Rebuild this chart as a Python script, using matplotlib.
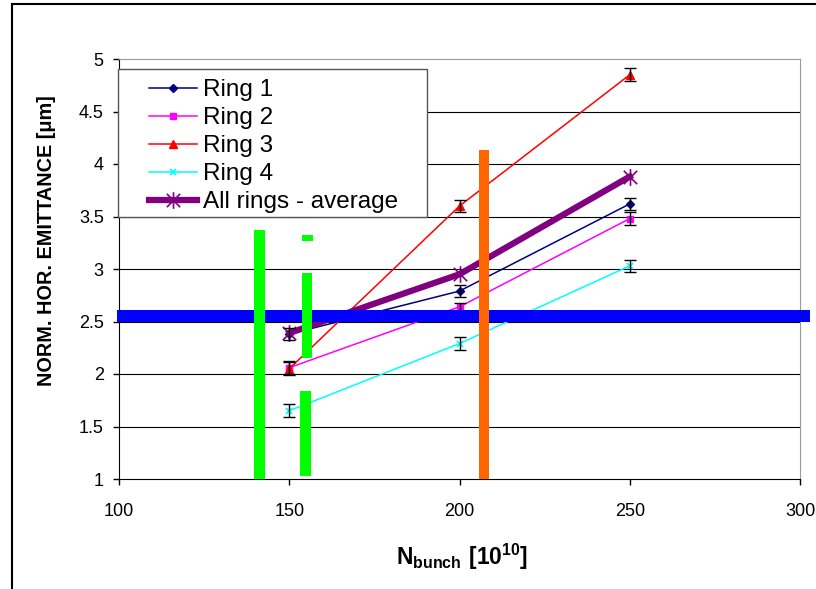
import numpy as np
import matplotlib
matplotlib.use('Agg')
import matplotlib.pyplot as plt
from matplotlib.patches import Rectangle
from matplotlib.lines import Line2D
from matplotlib.path import Path

plt.rcParams['font.family'] = ['Liberation Sans', 'DejaVu Sans']
plt.rcParams['mathtext.fontset'] = 'custom'
plt.rcParams['mathtext.rm'] = 'Liberation Sans'
plt.rcParams['mathtext.bf'] = 'Liberation Sans:bold'

# data
n_bunch = [150, 200, 250]
ring1 = [2.38, 2.79, 3.62]
ring2 = [2.06, 2.64, 3.48]
ring3 = [2.05, 3.60, 4.85]
ring4 = [1.65, 2.29, 3.03]
average = [2.39, 2.95, 3.88]
err1 = [0.06, 0.06, 0.06]
err2 = [0.06, 0.04, 0.06]
err3 = [0.06, 0.06, 0.06]
err4 = [0.06, 0.065, 0.06]

# coloured overlay bars (x0, x1, y0, y1) in data units
blue_bar = (99.4, 302.9, 2.50, 2.61)
green_bars = [(139.7, 142.9, 1.0, 3.37),
              (153.8, 156.9, 3.27, 3.32),
              (153.6, 156.7, 2.155, 2.965),
              (153.1, 156.3, 1.03, 1.84)]
orange_bar = (205.7, 208.8, 1.0, 4.13)

W, H = 816, 589
fig = plt.figure(figsize=(W / 100, H / 100), dpi=100)
ax = fig.add_axes([119 / W, 1 - 479 / H, (800 - 119) / W, (479 - 59) / H])

# outer frame of the pasted chart
fig.add_artist(Line2D([12 / W, 12 / W], [0, 1 - 4 / H], color='black', lw=1.5, transform=fig.transFigure))
fig.add_artist(Line2D([12 / W, 1], [1 - 4 / H, 1 - 4 / H], color='black', lw=1.5, transform=fig.transFigure))

# asterisk marker like excel
star = Path([(0, -1), (0, 1), (-0.8, -0.8), (0.8, 0.8), (-0.8, 0.8), (0.8, -0.8)],
            [Path.MOVETO, Path.LINETO, Path.MOVETO, Path.LINETO, Path.MOVETO, Path.LINETO])

for y in np.arange(1.5, 5, 0.5):
    ax.axhline(y, color='black', lw=0.8, zorder=1)

ax.plot(n_bunch, ring1, color='#000080', lw=1.1, marker='D', ms=4.5, label='Ring 1', zorder=3)
ax.plot(n_bunch, ring2, color='#FF00FF', lw=1.1, marker='s', ms=4.5, label='Ring 2', zorder=3)
ax.plot(n_bunch, ring3, color='#FF0000', lw=1.1, marker='^', ms=5.5, label='Ring 3', zorder=3)
ax.plot(n_bunch, ring4, color='#00FFFF', lw=1.1, marker='x', ms=5, mew=1.3, label='Ring 4', zorder=3)
ax.plot(n_bunch, average, color='#800080', lw=4.5, marker=star, ms=12, mew=1.2,
        label='All rings - average', zorder=3)

for vals, errs in [(ring1, err1), (ring2, err2), (ring3, err3), (ring4, err4)]:
    ax.errorbar(n_bunch, vals, yerr=errs, fmt='none', ecolor='black', elinewidth=1,
                capsize=4.5, capthick=1, zorder=4)

x0, x1, y0, y1 = blue_bar
ax.add_patch(Rectangle((x0, y0), x1 - x0, y1 - y0, color='#0000FF', lw=0, zorder=5, clip_on=False))
for x0, x1, y0, y1 in green_bars:
    ax.add_patch(Rectangle((x0, y0), x1 - x0, y1 - y0, color='#00FF00', lw=0, zorder=6, clip_on=False))
x0, x1, y0, y1 = orange_bar
ax.add_patch(Rectangle((x0, y0), x1 - x0, y1 - y0, color='#FF6600', lw=0, zorder=6, clip_on=False))

ax.set_xlim(100, 300)
ax.set_ylim(1, 5)
ax.set_xticks(np.arange(100, 301, 50))
ax.set_yticks(np.arange(1, 5.01, 0.5))
ax.set_yticklabels(['%g' % v for v in np.arange(1, 5.01, 0.5)])
ax.tick_params(direction='out', length=4, width=1, labelsize=13)
ax.tick_params(axis='x', pad=13)
ax.tick_params(axis='y', pad=7)
for s in ['top', 'right']:
    ax.spines[s].set_color('#999999')
for s in ['left', 'bottom']:
    ax.spines[s].set_color('black')

# legend box drawn by hand, excel style (wide, with padding)
ax.add_patch(Rectangle((118 / W, 1 - 217 / H), (427 - 118) / W, (217 - 69) / H,
                       transform=fig.transFigure, facecolor='white', edgecolor='#555555',
                       lw=1, zorder=9, clip_on=False))
leg = ax.legend(loc='upper left', bbox_to_anchor=(149 / W, 1 - 79 / H), bbox_transform=fig.transFigure,
                borderaxespad=0, borderpad=0, frameon=False,
                fontsize=17.5, handlelength=1.98, handletextpad=0.25, labelspacing=0.25)
leg.set_zorder(10)

fig.text(47 / W, 1 - 241 / H, 'NORM. HOR. EMITTANCE [μm]', rotation=90, fontsize=14.3,
         fontweight='bold', ha='center', va='center')
fig.text(462 / W, 1 - 557 / H, r'$\mathbf{N_{bunch}\ [10^{10}]}$', fontsize=16.4,
         ha='center', va='center')

fig.savefig('out.png', dpi=100)
